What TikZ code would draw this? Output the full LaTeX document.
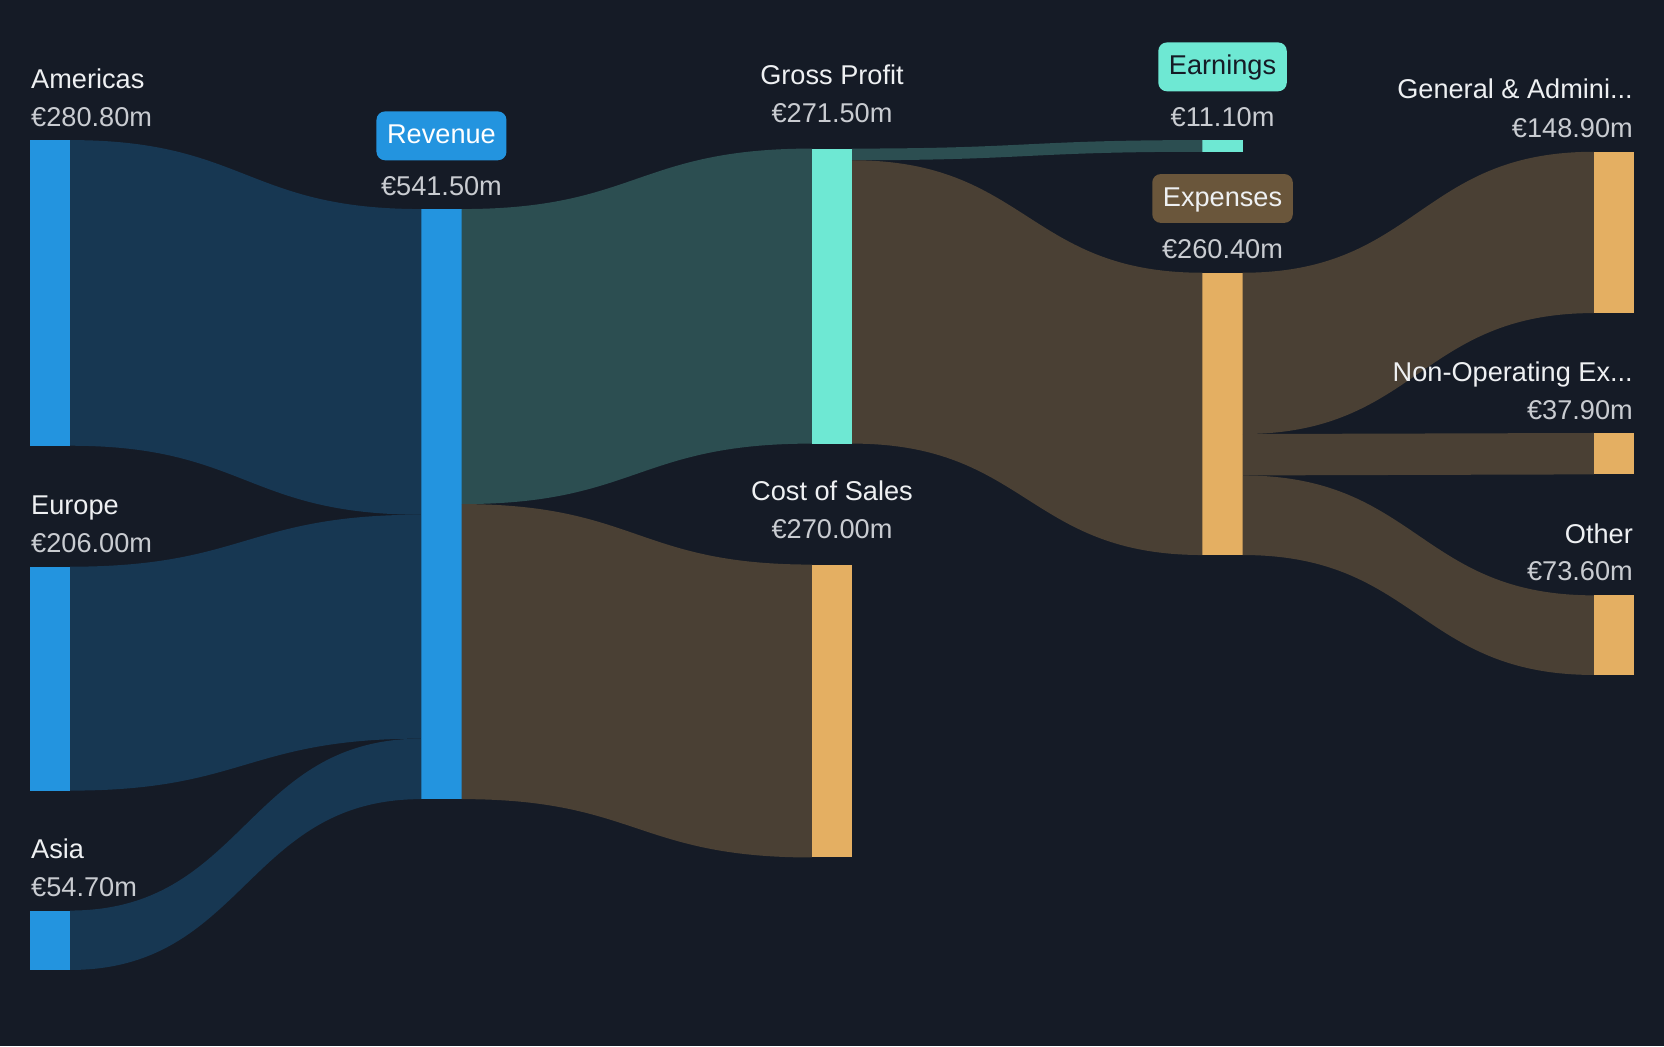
\documentclass[tikz,border=0pt]{standalone}
\usepackage{fontspec}
\setmainfont{Liberation Sans}
\usepackage{tikz}
\usetikzlibrary{calc}

\definecolor{bg}{HTML}{151B26}
\definecolor{bluebar}{HTML}{2394DF}
\definecolor{blueflow}{HTML}{173752}
\definecolor{tealbar}{HTML}{6EE8D3}
\definecolor{tealflow}{HTML}{2C4E51}
\definecolor{orangebar}{HTML}{E4AF62}
\definecolor{brownflow}{HTML}{4A4034}
\definecolor{expbox}{HTML}{6A563B}
\definecolor{nametext}{HTML}{EEF0F2}
\definecolor{valtext}{HTML}{C9CCD1}

\tikzset{
    bar/.style={fill=#1, inner sep=0, outer sep=0, minimum width=19pt, anchor=north west},
    lbl/.style={text=nametext, inner sep=0, yshift=-1pt, text height=0.72em, text depth=0pt, font=\fontsize{12.8}{15}\selectfont},
    amount/.style={text=valtext, inner sep=0, yshift=-1pt, text height=0.72em, text depth=0pt, font=\fontsize{12.8}{15}\selectfont},
    tag/.style={fill=#1, rounded corners=4pt, inner xsep=5pt, text height=0.72em, text depth=0pt, minimum height=23pt, font=\fontsize{12.8}{15}\selectfont}
}

% colour, source, top, bottom, target, top, bottom
\newcommand{\flow}[7]{
    \fill[#1] ($(#2.north east)+(0,#3)$) .. controls +(165,0) and +(-165,0) .. ($(#5.north west)+(0,#6)$)
        -- ($(#5.north west)+(0,#7)$) .. controls +(-165,0) and +(165,0) .. ($(#2.north east)+(0,#4)$) -- cycle;
}

\begin{document}
\begin{tikzpicture}[x=0.5pt, y=-0.5pt]
        \fill[bg] (0,0) rectangle (1568,986);

        \node[bar=bluebar, minimum height=144pt] (am) at (28,132) {};
        \node[bar=bluebar, minimum height=105.5pt] (eu) at (28,534) {};
        \node[bar=bluebar, minimum height=28pt] (as) at (28,858) {};
        \node[bar=bluebar, minimum height=278pt] (rev) at (397,197) {};
        \node[bar=tealbar, minimum height=139pt] (gp) at (765,140) {};
        \node[bar=orangebar, minimum height=138pt] (cos) at (765,532) {};
        \node[bar=tealbar, minimum height=5.5pt] (earn) at (1133,132) {};
        \node[bar=orangebar, minimum height=133pt] (exp) at (1133,257) {};
        \node[bar=orangebar, minimum height=76pt] (ga) at (1502,143) {};
        \node[bar=orangebar, minimum height=19.5pt] (nonop) at (1502,408) {};
        \node[bar=orangebar, minimum height=37.5pt] (oth) at (1502,561) {};

        \flow{blueflow}{am}{0}{288}{rev}{0}{288}
        \flow{blueflow}{eu}{0}{211}{rev}{288}{499}
        \flow{blueflow}{as}{0}{56}{rev}{499}{556}
        \flow{tealflow}{rev}{0}{278}{gp}{0}{278}
        \flow{brownflow}{rev}{278}{556}{cos}{0}{276}
        \flow{tealflow}{gp}{0}{11}{earn}{0}{11}
        \flow{brownflow}{gp}{11}{278}{exp}{0}{266}
        \flow{brownflow}{exp}{0}{152}{ga}{0}{152}
        \flow{brownflow}{exp}{152}{191}{nonop}{0}{39}
        \flow{brownflow}{exp}{191}{266}{oth}{0}{75}

        \node[lbl, anchor=west] (amname) at (29,74) {Americas};
        \node[amount, anchor=west] (amval) at (29,110) {€280.80m};
        \node[lbl, anchor=west] (euname) at (29,476) {Europe};
        \node[amount, anchor=west] (euval) at (29,511) {€206.00m};
        \node[lbl, anchor=west] (asname) at (29,800) {Asia};
        \node[amount, anchor=west] (asval) at (29,836) {€54.70m};

        \node[tag=bluebar, text=white] (revname) at (416,128) {Revenue};
        \node[amount] (revval) at (416,175) {€541.50m};
        \node[lbl] (gpname) at (784,70) {Gross Profit};
        \node[amount] (gpval) at (784,106) {€271.50m};
        \node[lbl] (cosname) at (784,462) {Cost of Sales};
        \node[amount] (cosval) at (784,498) {€270.00m};
        \node[tag=tealbar, text=bg] (earnname) at (1152,63) {Earnings};
        \node[amount] (earnval) at (1152,110) {€11.10m};
        \node[tag=expbox, text=nametext] (expname) at (1152,187) {Expenses};
        \node[amount] (expval) at (1152,234) {€260.40m};

        \node[lbl, anchor=east] (ganame) at (1539,84) {General \& Admini...};
        \node[amount, anchor=east] (gaval) at (1539,120) {€148.90m};
        \node[lbl, anchor=east] (nonopname) at (1539,350) {Non-Operating Ex...};
        \node[amount, anchor=east] (nonopval) at (1539,386) {€37.90m};
        \node[lbl, anchor=east] (othname) at (1539,503) {Other};
        \node[amount, anchor=east] (othval) at (1539,538) {€73.60m};
    \end{tikzpicture}
\end{document}
